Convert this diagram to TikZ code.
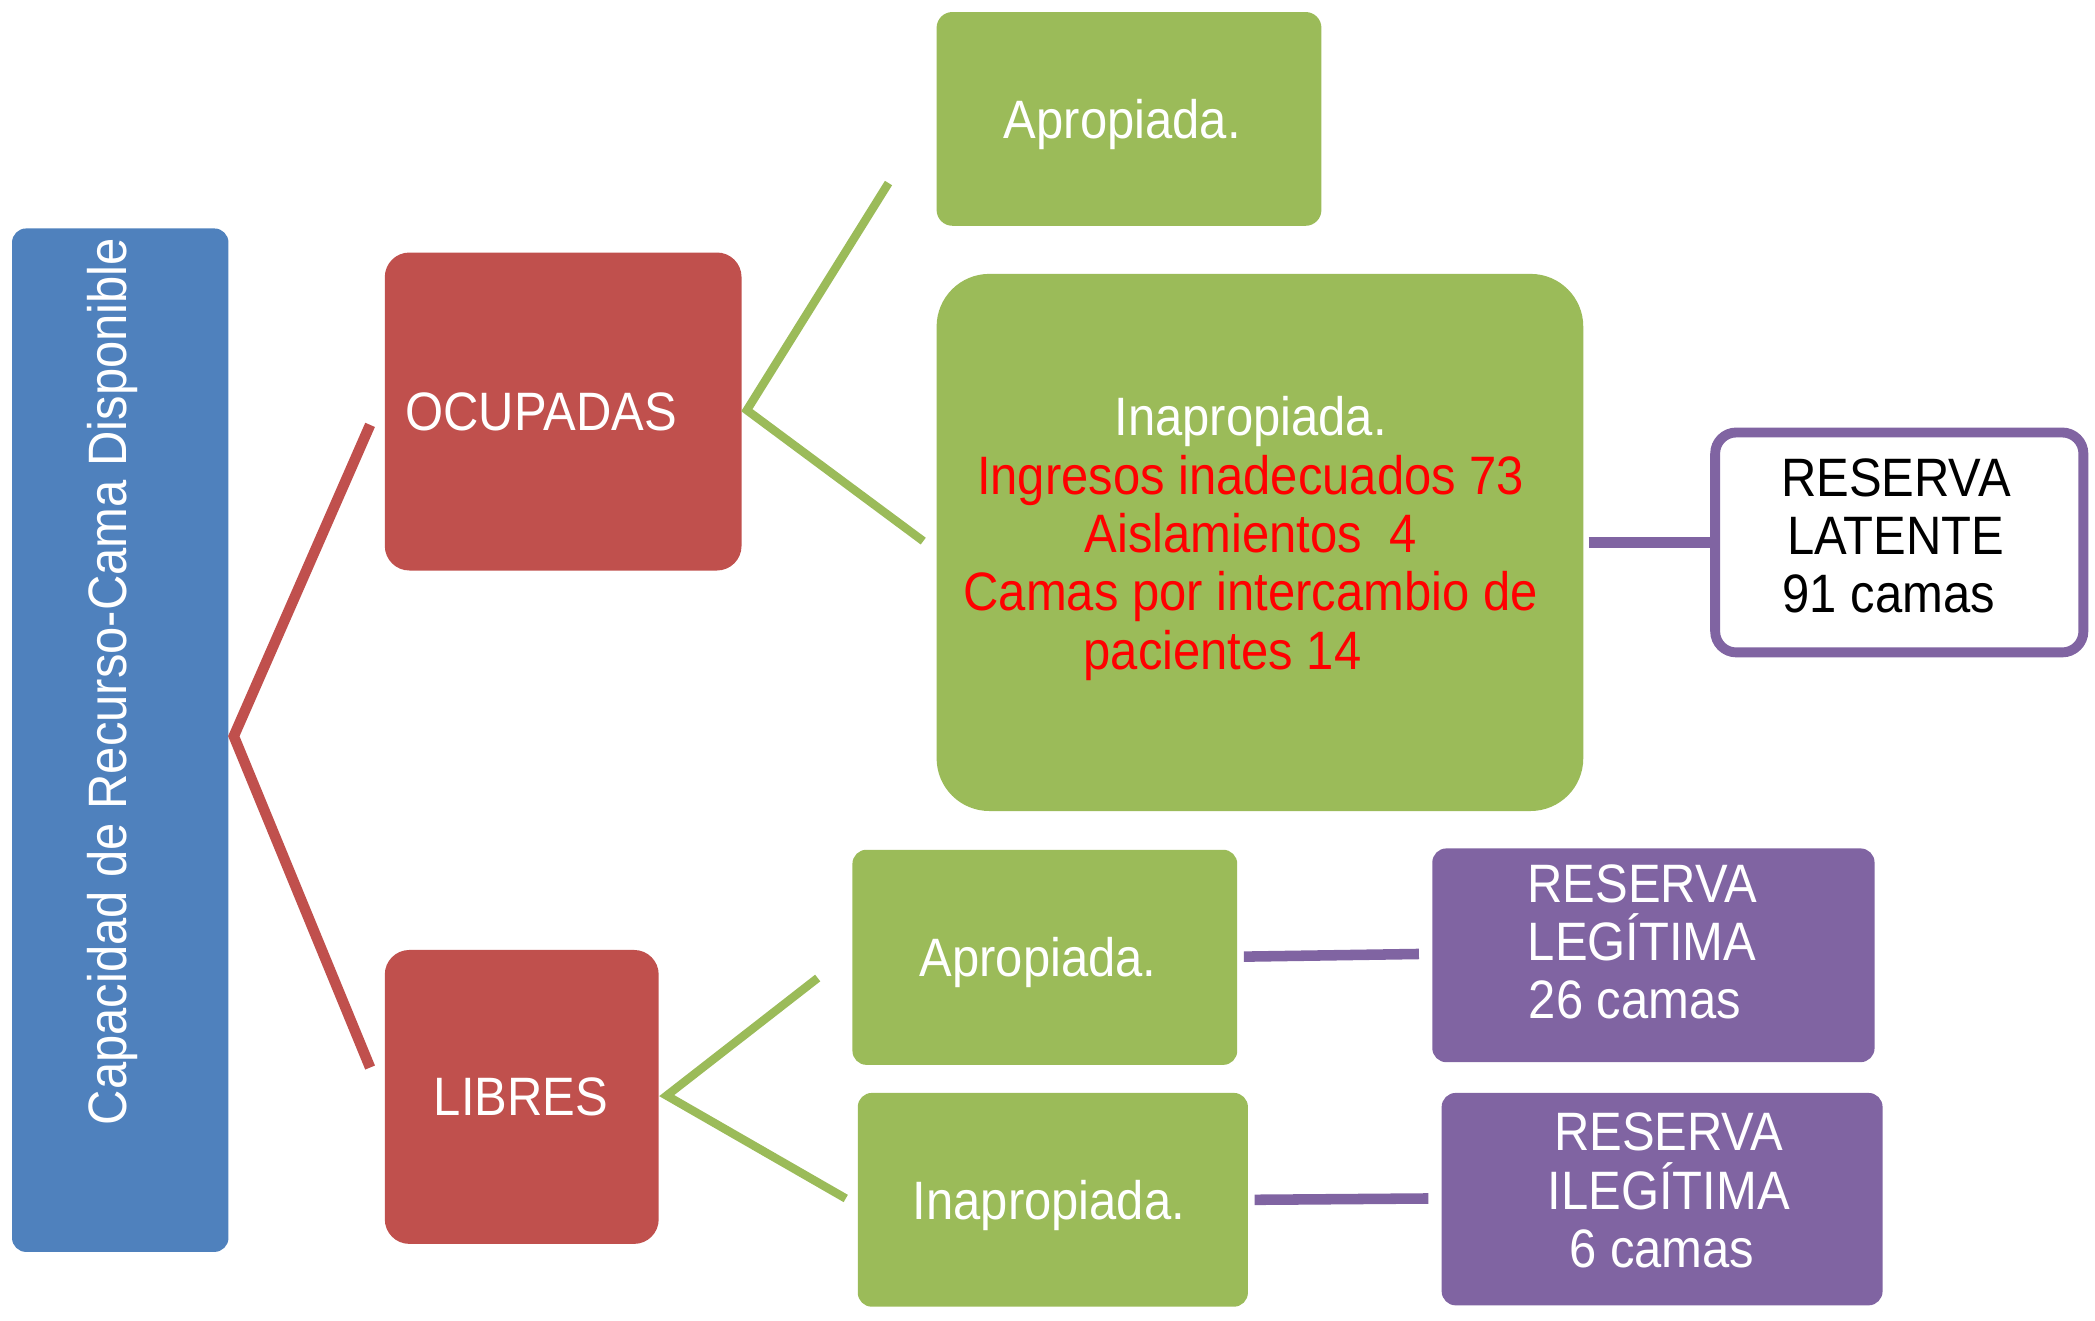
\documentclass[tikz,border=0pt]{standalone}
\usepackage{fontspec}
\setmainfont{Liberation Sans}[FakeStretch=0.905]
\usetikzlibrary{fit}
\definecolor{cblue}{HTML}{4F81BD}
\definecolor{cred}{HTML}{C0504D}
\definecolor{cgreen}{HTML}{9BBB59}
\definecolor{cpurple}{HTML}{8064A2}
\definecolor{tred}{HTML}{FF0000}
\begin{document}
\begin{tikzpicture}[x=0.013361cm,y=-0.013361cm,
  boxf/.style={rectangle,inner sep=0pt,outer sep=0pt},
  txt/.style={font=\fontsize{15.4}{16.6}\selectfont,align=center,inner sep=0pt},
  redline/.style={draw=cred,line width=3pt},
  greenline/.style={draw=cgreen,line width=2.4pt},
  purpleline/.style={draw=cpurple,line width=3pt}]
\useasboundingbox (0,0) rectangle (1568,988);

% boxes
\node[boxf,fill=cblue,rounded corners=4pt,fit={(9,171) (171,937)}] (cap) {};
\node[boxf,fill=cred,rounded corners=7pt,fit={(288,189) (555,427)}] (ocu) {};
\node[boxf,fill=cred,rounded corners=7pt,fit={(288,711) (493,931)}] (lib) {};
\node[boxf,fill=cgreen,rounded corners=4.5pt,fit={(701,9) (989,169)}] (apo) {};
\node[boxf,fill=cgreen,rounded corners=15pt,fit={(701,205) (1185,607)}] (ino) {};
\node[boxf,fill=white,draw=cpurple,line width=2.8pt,rounded corners=6pt,fit={(1283.7,323.7) (1559.3,488.3)}] (lat) {};
\node[boxf,fill=cgreen,rounded corners=4pt,fit={(638,636) (926,797)}] (apl) {};
\node[boxf,fill=cgreen,rounded corners=4pt,fit={(642,818) (934,978)}] (inl) {};
\node[boxf,fill=cpurple,rounded corners=4pt,fit={(1072,635) (1403,795)}] (leg) {};
\node[boxf,fill=cpurple,rounded corners=4pt,fit={(1079,818) (1409,977)}] (ileg) {};

% texts
\node[txt,white,rotate=90] (capT) at (84,510) {Capacidad de Recurso-Cama Disponible};
\node[txt,white] (ocuT) at (405,308) {OCUPADAS};
\node[txt,white] (libT) at (390,821) {LIBRES};
\node[txt,white] (apoT) at (840,93.5) {Apropiada.};
\node[txt] (inoT) at (936,403) {\textcolor{white}{Inapropiada.}\\
  \textcolor{tred}{Ingresos inadecuados 73}\\
  \textcolor{tred}{Aislamientos\ \ 4}\\
  \textcolor{tred}{Camas por intercambio de}\\
  \textcolor{tred}{pacientes 14\rule{16pt}{0pt}}};
\node[txt,black] (latT) at (1419,401) {RESERVA\\LATENTE\\91 camas\rule{4pt}{0pt}};
\node[txt,white] (aplT) at (777,720.5) {Apropiada.};
\node[txt,white] (inlT) at (785,902.5) {Inapropiada.};
\node[txt,white] (legT) at (1229,705) {RESERVA\\LEGÍTIMA\\26 camas\rule{4pt}{0pt}};
\node[txt,white] (ilegT) at (1249,891) {RESERVA\\ILEGÍTIMA\\6 camas\rule{4pt}{0pt}};

% connector points
\coordinate (rv) at (175,551);
\coordinate (rt) at (277,318);
\coordinate (rb) at (277,799);
\coordinate (g1v) at (559,307);
\coordinate (g1a) at (665,137);
\coordinate (g1b) at (691,405);
\coordinate (g2v) at (499,820);
\coordinate (g2a) at (612,732);
\coordinate (g2b) at (633,897);
\coordinate (p1a) at (1189,406);
\coordinate (p2a) at (931,716);
\coordinate (p2b) at (1062,714);
\coordinate (p3a) at (939,898);
\coordinate (p3b) at (1069,897);

% connectors
\draw[redline] (rt) -- (rv) -- (rb);
\draw[greenline] (g1a) -- (g1v) -- (g1b);
\draw[greenline] (g2a) -- (g2v) -- (g2b);
\draw[purpleline] (p1a) -- (lat.west);
\draw[purpleline] (p2a) -- (p2b);
\draw[purpleline] (p3a) -- (p3b);
\end{tikzpicture}
\end{document}
